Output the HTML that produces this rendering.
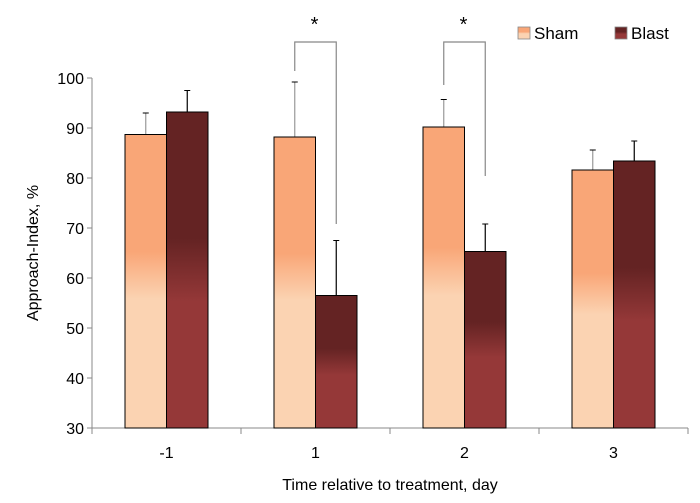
<!DOCTYPE html>
<html><head><meta charset="utf-8"><style>
body{margin:0;background:#fff}
svg text{font-family:"Liberation Sans",sans-serif;fill:#000}
</style></head><body>
<svg id="c" width="700" height="498" viewBox="0 0 700 498">
<defs>
<linearGradient id="gs" x1="0" y1="0" x2="0" y2="1"><stop offset="0" stop-color="#f9a677"/><stop offset="0.4" stop-color="#f9a677"/><stop offset="0.56" stop-color="#fbd3b2"/><stop offset="1" stop-color="#fbd3b2"/></linearGradient>
<linearGradient id="gb" x1="0" y1="0" x2="0" y2="1"><stop offset="0" stop-color="#642323"/><stop offset="0.4" stop-color="#642323"/><stop offset="0.6" stop-color="#953838"/><stop offset="1" stop-color="#953838"/></linearGradient>
</defs>
<g id="plot"></g>
</svg>
<script>
const categories=["-1","1","2","3"];
const shamValues=[88.7,88.2,90.2,81.6];
const shamErr=[4.3,11,5.5,4];
const blastValues=[93.2,56.5,65.3,83.4];
const blastErr=[4.3,11,5.5,4];
const yTicks=[30,40,50,60,70,80,90,100];
const bracketCats=[1,2];
const bracketLeftEnd=[101.4,98.6];
const bracketRightEnd=[70.8,80.4];
const NS="http://www.w3.org/2000/svg";
const g=document.getElementById('plot');
const x0=92,x1=688,yTop=78,yBot=428,yMin=30,yMax=100;
const y=v=>yBot-(v-yMin)/(yMax-yMin)*(yBot-yTop);
const bw=(x1-x0)/categories.length;
const cx=i=>x0+bw*(i+0.5);
function mk(t,a,p){const e=document.createElementNS(NS,t);for(const k in a)e.setAttribute(k,a[k]);(p||g).appendChild(e);return e;}
let ax=mk('line',{x1:x0,y1:yTop,x2:x0,y2:yBot,stroke:'#888'});


let bx=mk('line',{x1:x0,y1:yBot,x2:x1,y2:yBot,stroke:'#888'});


yTicks.forEach(v=>{
 mk('line',{x1:x0-5,y1:y(v),x2:x0,y2:y(v),stroke:'#888'});
 const t=mk('text',{x:x0-8,y:y(v)+6,'text-anchor':'end','font-size':16});t.textContent=v;
 
 
});
for(let i=0;i<=categories.length;i++){mk('line',{x1:x0+bw*i,y1:yBot,x2:x0+bw*i,y2:yBot+6,stroke:'#888'});}
categories.forEach((c,i)=>{
 const t=mk('text',{x:cx(i),y:yBot+30,'text-anchor':'middle','font-size':16});t.textContent=c;
 
 
 const w=41.5;
 [[shamValues,shamErr,'url(#gs)',-w,'sham','#999'],[blastValues,blastErr,'url(#gb)',0,'blast','#000']].forEach(([vals,err,fill,off,nm,ec])=>{
  const xl=cx(i)+off;
  const ex=xl+w/2, et=y(vals[i]+err[i]);
  mk('line',{x1:ex,y1:y(vals[i]),x2:ex,y2:et,stroke:ec,'stroke-width':1.2});
  mk('line',{x1:ex-3,y1:et,x2:ex+3,y2:et,stroke:'#000'});
  const r=mk('rect',{x:xl,y:y(vals[i]),width:w,height:yBot-y(vals[i]),fill:fill,stroke:'#000','stroke-width':1});
  
  
 });
});
bracketCats.forEach((i,k)=>{
 const lx=cx(i)-20.75, rx=cx(i)+20.75, top=42;
 const p=mk('path',{d:`M${lx},${y(bracketLeftEnd[k])}V${top}H${rx}V${y(bracketRightEnd[k])}`,fill:'none',stroke:'#888','stroke-width':1.2});
 
 
 const s=mk('text',{x:(lx+rx)/2-1,y:31,'text-anchor':'middle','font-size':20});s.textContent='*';
 
 
});
[['Sham','url(#gs)',518],['Blast','url(#gb)',615]].forEach(([n,f,lx])=>{
 const r=mk('rect',{x:lx,y:27,width:12,height:12,fill:f,stroke:'#888','stroke-width':0.8});
 
 
 const t=mk('text',{x:lx+16,y:39,'font-size':17});t.textContent=n;
 
 
});
const yt=mk('text',{x:0,y:0,'text-anchor':'middle','font-size':16,transform:`translate(38,${(yTop+yBot)/2}) rotate(-90)`});yt.textContent='Approach-Index, %';


const xt=mk('text',{x:(x0+x1)/2,y:490,'text-anchor':'middle','font-size':16});xt.textContent='Time relative to treatment, day';


</script>
</body></html>
